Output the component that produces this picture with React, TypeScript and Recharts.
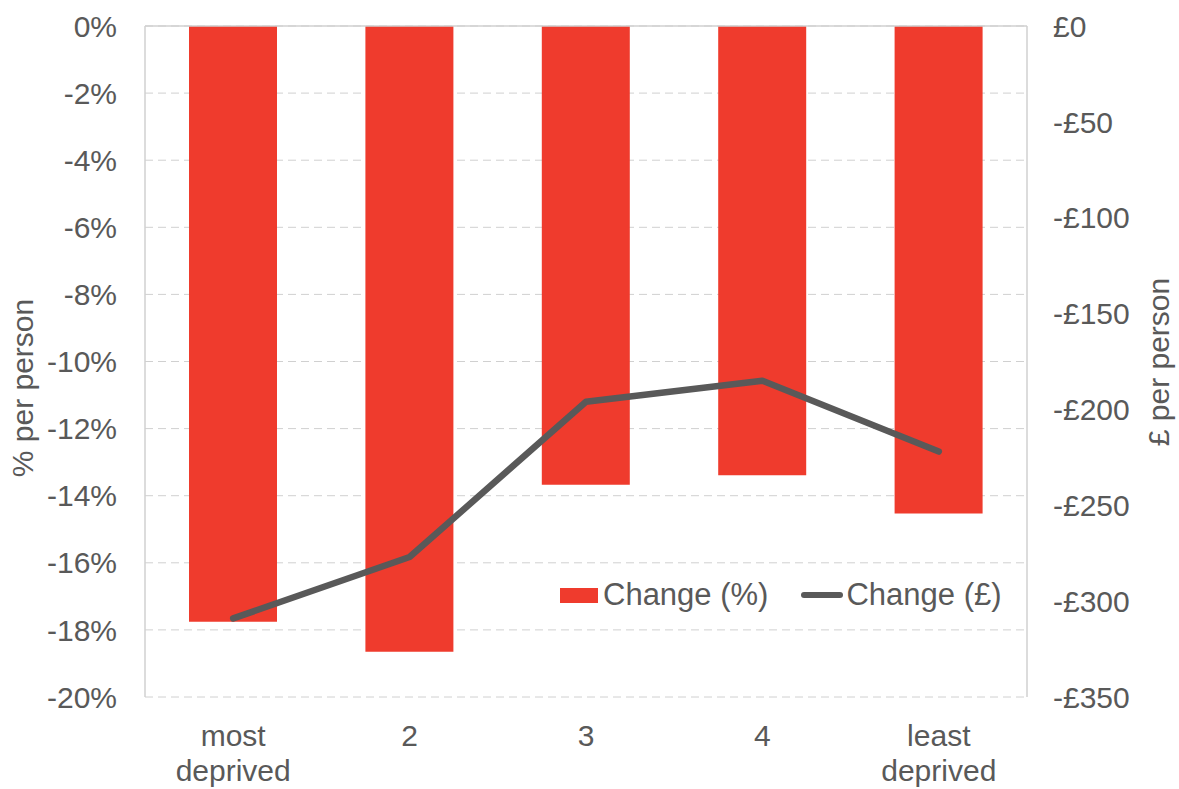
import React from "react";
import {
  ComposedChart,
  Bar,
  Line,
  XAxis,
  YAxis,
  CartesianGrid,
  ReferenceLine,
  Legend,
} from "recharts";

const categories = ["most deprived", "2", "3", "4", "least deprived"];
const changePct = [-17.76, -18.65, -13.67, -13.39, -14.53];
const changeGbp = [-309, -277, -196, -185, -222];
const pctTicks = [0, -2, -4, -6, -8, -10, -12, -14, -16, -18, -20];
const gbpTicks = [0, -50, -100, -150, -200, -250, -300, -350];

const data = categories.map((c, i) => ({
  name: c,
  pct: changePct[i],
  gbp: changeGbp[i],
}));

const FONT = '"Liberation Sans", Arial, sans-serif';
const TEXT = "#595959";
const RED = "#EF3B2D";
const LINE = "#595959";
const GRID = "#D0D0D0";
const FS = 30;

const XTick = (props: any) => {
  const { x, y, payload } = props;
  const lines = String(payload.value).split(" ");
  return (
    <text
      x={x}
      y={y + 49}
      textAnchor="middle"
      fill={TEXT}
      fontSize={FS}
      fontFamily={FONT}
    >
      {lines.map((l: string, i: number) => (
        <tspan key={i} x={x} dy={i === 0 ? 0 : 35}>
          {l}
        </tspan>
      ))}
    </text>
  );
};

const LegendContent = () => (
  <div
    style={{
      display: "flex",
      alignItems: "center",
      fontFamily: FONT,
      fontSize: 31,
      color: TEXT,
      whiteSpace: "nowrap",
      lineHeight: "34px",
    }}
  >
    <span
      style={{
        display: "inline-block",
        width: 38,
        height: 15,
        background: RED,
        marginRight: 5,
      }}
    />
    <span>Change (%)</span>
    <span
      style={{
        display: "inline-block",
        width: 42,
        height: 6,
        borderRadius: 3,
        background: LINE,
        marginLeft: 33,
        marginRight: 3,
      }}
    />
    <span>Change (£)</span>
  </div>
);

export default function App() {
  return (
    <div style={{ position: "absolute", left: 0, top: 0, width: 1179, height: 789, background: "#fff" }}>
      <ComposedChart
        width={1179}
        height={789}
        data={data}
        margin={{ top: 26, right: 0, bottom: 0, left: 0 }}
      >
        <CartesianGrid
          yAxisId="left"
          vertical={false}
          stroke={GRID}
          strokeDasharray="8 5"
        />
        <XAxis
          dataKey="name"
          height={92}
          axisLine={false}
          tickLine={false}
          tickSize={0}
          tickMargin={0}
          interval={0}
          tick={<XTick />}
        />
        <YAxis
          yAxisId="left"
          orientation="left"
          width={145}
          domain={[-20, 0]}
          ticks={pctTicks}
          interval={0}
          tickFormatter={(v: number) => `${v}%`}
          axisLine={{ stroke: GRID, strokeWidth: 1.5 }}
          tickLine={false}
          tickSize={0}
          tickMargin={28}
          tick={{ fill: TEXT, fontSize: FS, fontFamily: FONT }}
          label={{
            content: () => (
              <text
                x={33}
                y={388}
                transform="rotate(-90 33 388)"
                textAnchor="middle"
                fill={TEXT}
                fontSize={FS}
                fontFamily={FONT}
              >
                % per person
              </text>
            ),
          }}
        />
        <YAxis
          yAxisId="right"
          orientation="right"
          width={152}
          domain={[-350, 0]}
          ticks={gbpTicks}
          interval={0}
          tickFormatter={(v: number) => (v === 0 ? "£0" : `-£${-v}`)}
          axisLine={{ stroke: GRID, strokeWidth: 1.5 }}
          tickLine={false}
          tickSize={0}
          tickMargin={26}
          tick={{ fill: TEXT, fontSize: FS, fontFamily: FONT, textAnchor: "start" }}
          label={{
            content: () => (
              <text
                x={1169}
                y={362}
                transform="rotate(-90 1169 362)"
                textAnchor="middle"
                fill={TEXT}
                fontSize={FS}
                fontFamily={FONT}
              >
                £ per person
              </text>
            ),
          }}
        />
        <Bar
          yAxisId="left"
          dataKey="pct"
          name="Change (%)"
          fill={RED}
          barSize={88}
          isAnimationActive={false}
        />
        <ReferenceLine yAxisId="left" y={0} stroke={GRID} strokeWidth={1.5} />
        <Line
          yAxisId="right"
          dataKey="gbp"
          name="Change (£)"
          type="linear"
          stroke={LINE}
          strokeWidth={6.5}
          strokeLinecap="round"
          strokeLinejoin="round"
          dot={false}
          isAnimationActive={false}
        />
        <Legend
          layout="horizontal"
          verticalAlign="middle"
          align="center"
          content={<LegendContent />}
          wrapperStyle={{ position: "absolute", left: 560, top: 578, width: "auto", height: "auto" }}
        />
      </ComposedChart>
    </div>
  );
}
